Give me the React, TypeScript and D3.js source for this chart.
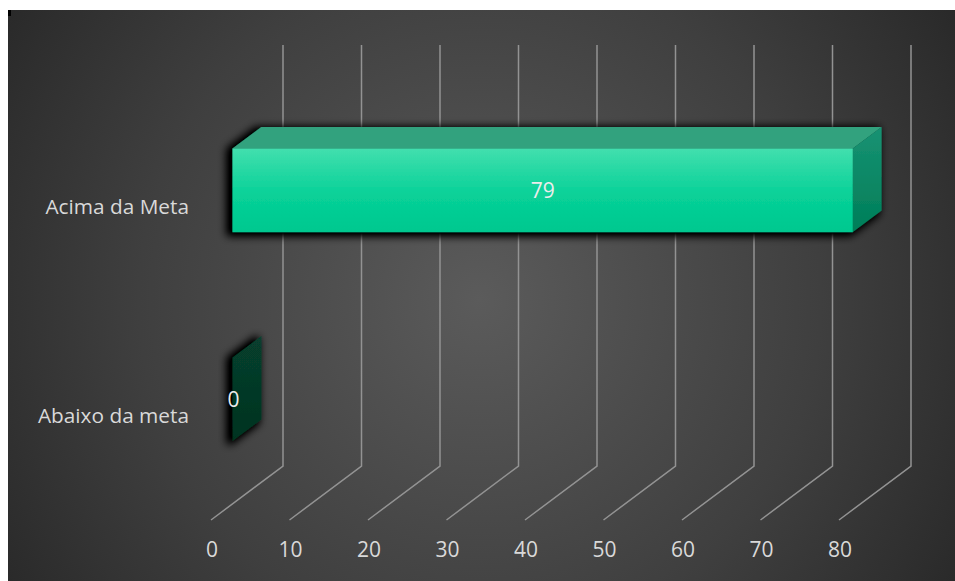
import React from "react";
import * as d3 from "d3";

const categories = ["Acima da Meta", "Abaixo da meta"];
const values = [79, 0];
const tickValues = [0, 10, 20, 30, 40, 50, 60, 70, 80];

const W = 955;
const H = 581;
// depth vector of the 3D floor
const DX = 72;
const DY = -54;
const FRONT = 0.3;
const BACK = 0.7;

export default function App() {
  const x = d3.scaleLinear().domain([0, 80]).range([211, 839]);
  const y = d3.scaleBand<string>().domain(categories).range([102, 520]).padding(0);
  const barH = y.bandwidth() * 0.4;
  const floorY = 520;
  const topY = 45;
  const fdx = DX * FRONT, fdy = DY * FRONT;
  const bdx = DX * (BACK - FRONT), bdy = DY * (BACK - FRONT);

  const pts = (arr: number[][]) => arr.map((p) => p.join(",")).join(" ");
  const font = "'Open Sans', sans-serif";

  return (
    <svg width={W} height={H} style={{ display: "block", position: "absolute", left: 0, top: 0 }}>
      <defs>
        <radialGradient id="bg" gradientUnits="userSpaceOnUse" cx={480} cy={300} r={620}>
          <stop offset="0" stopColor="#5b5b5b" />
          <stop offset="0.55" stopColor="#3f3f3f" />
          <stop offset="1" stopColor="#232323" />
        </radialGradient>
        <linearGradient id="front" x1="0" y1="0" x2="0" y2="1">
          <stop offset="0" stopColor="#42dfae" />
          <stop offset="0.55" stopColor="#08d198" />
          <stop offset="1" stopColor="#00c88f" />
        </linearGradient>
        <linearGradient id="side" x1="0" y1="0" x2="0" y2="1">
          <stop offset="0" stopColor="#179273" />
          <stop offset="1" stopColor="#007e58" />
        </linearGradient>
        <linearGradient id="side0" x1="0" y1="0" x2="0" y2="1">
          <stop offset="0" stopColor="#073f2e" />
          <stop offset="1" stopColor="#04331f" />
        </linearGradient>
        <filter id="shadow" x="-50%" y="-50%" width="200%" height="200%">
          <feMorphology in="SourceAlpha" operator="dilate" radius={2} result="d" />
          <feGaussianBlur in="d" stdDeviation={4.5} result="b" />
          <feOffset in="b" dx={-4} dy={2} result="o" />
          <feComponentTransfer in="o" result="s">
            <feFuncA type="linear" slope={1.3} />
          </feComponentTransfer>
          <feMerge>
            <feMergeNode in="s" />
            <feMergeNode in="SourceGraphic" />
          </feMerge>
        </filter>
      </defs>
      <g>
        <rect x={8} y={10} width={947} height={571} fill="url(#bg)" />
        <rect x={8} y={10} width={3} height={6} fill="#000" />

        {/* gridlines */}
        {tickValues.map((t) => (
          <polyline
            key={t}
            points={pts([
              [x(t), floorY],
              [x(t) + DX, floorY + DY],
              [x(t) + DX, topY],
            ])}
            fill="none"
            stroke="#939393"
            strokeWidth={1.5}
          />
        ))}

        {/* bars */}
        {categories.map((c, i) => {
          const v = values[i];
          const cy = (y(c) as number) + y.bandwidth() / 2;
          const x0 = x(0) + fdx;
          const x1 = x(v) + fdx;
          const yt = cy - barH / 2 + fdy;
          const yb = cy + barH / 2 + fdy;
          const sideFill = v === 0 ? "url(#side0)" : "url(#side)";
          return (
            <g key={c}>
              <g filter="url(#shadow)">
                {v > 0 && (
                  <polygon
                    points={pts([
                      [x0, yt],
                      [x0 + bdx, yt + bdy],
                      [x1 + bdx, yt + bdy],
                      [x1, yt],
                    ])}
                    fill="#33a27e"
                  />
                )}
                <polygon
                  points={pts([
                    [x1, yt],
                    [x1 + bdx, yt + bdy],
                    [x1 + bdx, yb + bdy],
                    [x1, yb],
                  ])}
                  fill={sideFill}
                />
                {v > 0 && <rect x={x0} y={yt} width={x1 - x0} height={yb - yt} fill="url(#front)" />}
              </g>
              <text
                x={v > 0 ? (x0 + x1) / 2 : x1 + 1}
                y={cy + fdy}
                dy="0.35em"
                textAnchor="middle"
                fontFamily={font}
                fontSize={21}
                fill="#ececec"
              >
                {v}
              </text>
            </g>
          );
        })}

        {/* category labels */}
        {categories.map((c) => (
          <text
            key={c}
            x={189}
            y={(y(c) as number) + y.bandwidth() / 2}
            dy="0.35em"
            textAnchor="end"
            fontFamily={font}
            fontSize={20.8}
            fill="#d9d9d9"
          >
            {c}
          </text>
        ))}

        {/* value axis labels */}
        {tickValues.map((t) => (
          <text
            key={t}
            x={x(t) + 1}
            y={550}
            dy="0.35em"
            textAnchor="middle"
            fontFamily={font}
            fontSize={21}
            fill="#d9d9d9"
          >
            {t}
          </text>
        ))}
      </g>
    </svg>
  );
}
